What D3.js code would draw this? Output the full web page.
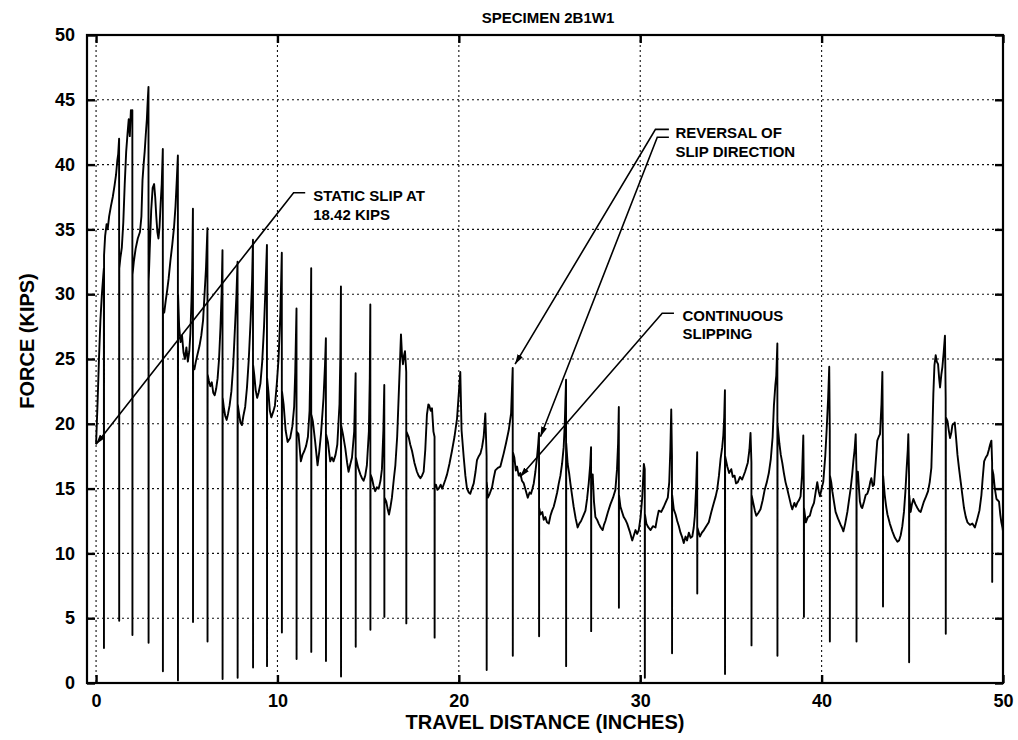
<!DOCTYPE html>
<html>
<head>
<meta charset="utf-8">
<script src="https://cdn.jsdelivr.net/npm/d3@7"></script>
<style>
  body { margin: 0; background: #fff; }
  svg { display: block; }
  text { font-family: "Liberation Sans", Arial, Helvetica, sans-serif; font-weight: bold; fill: #000; }
</style>
</head>
<body>
<svg id="chart" width="1018" height="740"></svg>
<script>
// Force (kips) against travel distance (inches) for specimen 2B1W1.
// Each sharp downward stroke is a slip event: peak force, momentary drop, recovery.
const forceTrace = [
  [0,18.42],[0.08,21.5],[0.16,25.0],[0.24,28.0],[0.32,30.0],[0.40,31.5],[0.43,32.0],[0.435,2.7],[0.44,33.0],
  [0.5,34.5],[0.58,35.4],[0.64,35.0],[0.72,36.0],[0.82,36.8],[0.92,37.5],[1.02,38.4],[1.1,39.2],[1.17,40.3],[1.22,40.8],[1.27,42.0],[1.275,4.8],[1.28,32.0],
  [1.34,32.8],[1.42,33.6],[1.5,35.5],[1.58,38.5],[1.66,41.0],[1.74,42.5],[1.8,43.5],[1.86,42.2],[1.92,44.2],[1.97,43.5],[2.0,44.2],[2.005,3.7],[2.01,31.5],
  [2.08,32.5],[2.18,33.5],[2.3,34.3],[2.42,34.8],[2.5,36.0],[2.56,38.8],[2.62,40.0],[2.68,41.0],[2.74,42.3],[2.8,43.5],[2.85,45.0],[2.89,46.0],[2.895,3.1],[2.9,31.0],
  [2.96,33.5],[3.04,36.5],[3.12,38.2],[3.2,38.5],[3.26,37.5],[3.32,36.0],[3.38,34.8],[3.44,34.3],[3.5,35.2],[3.56,37.0],[3.62,38.5],[3.68,41.2],[3.685,0.9],[3.69,28.5],
  [3.76,28.6],[3.84,29.5],[3.92,30.3],[4.0,31.2],[4.1,32.6],[4.2,33.8],[4.3,35.2],[4.38,36.8],[4.45,38.8],[4.51,40.7],[4.515,0.2],[4.52,30.0],
  [4.58,27.5],[4.66,26.3],[4.74,26.8],[4.82,25.5],[4.9,25.0],[4.98,25.9],[5.06,24.8],[5.14,25.6],[5.2,27.0],[5.26,29.5],[5.3,32.0],[5.34,36.6],[5.345,4.7],[5.35,24.5],
  [5.42,24.2],[5.5,24.8],[5.6,25.4],[5.7,26.0],[5.8,26.8],[5.9,28.0],[5.98,30.0],[6.06,32.0],[6.14,35.1],[6.145,3.2],[6.15,23.8],
  [6.22,23.3],[6.3,22.9],[6.38,23.2],[6.46,22.4],[6.54,22.2],[6.62,22.7],[6.7,23.5],[6.78,25.0],[6.86,27.5],[6.92,30.0],[6.97,33.4],[6.975,0.3],[6.98,22.0],
  [7.05,21.2],[7.12,20.6],[7.2,20.3],[7.28,20.8],[7.36,21.4],[7.46,22.5],[7.56,24.5],[7.66,27.5],[7.74,30.0],[7.8,32.5],[7.805,0.4],[7.81,21.5],
  [7.88,20.8],[7.96,20.1],[8.04,19.9],[8.12,20.6],[8.22,21.3],[8.32,22.8],[8.42,25.0],[8.52,28.0],[8.6,31.0],[8.65,34.2],[8.655,1.2],[8.66,24.5],
  [8.72,23.8],[8.8,22.6],[8.88,22.0],[8.96,22.4],[9.06,23.1],[9.16,24.8],[9.26,27.5],[9.34,30.5],[9.42,33.8],[9.425,1.3],[9.43,23.5],
  [9.5,22.5],[9.58,21.0],[9.66,20.5],[9.76,20.9],[9.86,21.4],[9.96,23.0],[10.06,25.0],[10.16,28.5],[10.24,33.2],[10.245,3.9],[10.25,22.5],
  [10.34,21.5],[10.45,19.5],[10.56,18.6],[10.7,18.9],[10.82,19.8],[10.92,21.3],[10.98,24.0],[11.05,28.9],[11.055,1.85],[11.06,19.4],
  [11.16,19.2],[11.29,17.1],[11.38,17.6],[11.48,17.9],[11.58,18.3],[11.68,19.0],[11.77,21.0],[11.82,25.0],[11.86,32.0],[11.865,2.4],[11.87,20.7],
  [11.95,20.2],[12.08,18.6],[12.21,16.8],[12.3,17.8],[12.4,19.2],[12.54,22.0],[12.62,24.5],[12.67,26.6],[12.675,1.7],[12.68,19.2],
  [12.78,18.6],[12.91,17.1],[13.0,17.4],[13.09,17.1],[13.2,17.6],[13.3,18.4],[13.42,21.5],[13.47,25.5],[13.5,30.6],[13.505,0.5],[13.51,19.9],
  [13.61,19.2],[13.74,18.1],[13.84,17.0],[13.92,16.3],[14.02,16.9],[14.11,17.4],[14.23,19.4],[14.31,23.9],[14.315,2.8],[14.32,17.4],
  [14.45,16.6],[14.57,16.1],[14.66,15.8],[14.75,15.6],[14.84,16.0],[14.93,16.8],[15.04,19.4],[15.09,23.5],[15.12,29.2],[15.125,4.1],[15.13,16.1],
  [15.21,15.8],[15.3,15.2],[15.39,14.8],[15.48,15.1],[15.58,15.0],[15.68,15.6],[15.76,16.5],[15.84,19.5],[15.89,23.0],[15.895,5.1],[15.9,14.3],
  [16.0,14.0],[16.08,13.4],[16.15,13.0],[16.22,13.5],[16.31,14.3],[16.42,15.8],[16.5,16.8],[16.6,19.0],[16.68,22.0],[16.76,25.0],[16.81,26.9],[16.87,25.2],[16.92,24.6],[16.98,25.3],[17.03,25.6],[17.08,24.5],[17.1,24.0],[17.105,4.6],[17.11,19.4],
  [17.23,19.0],[17.32,18.4],[17.42,17.9],[17.55,17.0],[17.69,16.3],[17.78,16.0],[17.88,15.8],[17.97,16.0],[18.06,16.3],[18.15,18.0],[18.24,20.7],[18.32,21.5],[18.37,21.4],[18.45,21.0],[18.52,21.2],[18.6,19.4],[18.66,19.0],[18.665,3.5],[18.67,15.3],
  [18.74,15.3],[18.82,14.9],[18.89,15.0],[19.0,15.3],[19.08,15.0],[19.16,15.3],[19.26,15.7],[19.35,16.1],[19.48,16.9],[19.62,17.9],[19.76,19.0],[19.9,20.4],[19.98,22.0],[20.08,24.0],
  [20.15,19.5],[20.27,17.4],[20.36,16.0],[20.45,15.0],[20.55,14.7],[20.63,14.6],[20.72,15.0],[20.82,15.4],[20.92,16.3],[21.0,17.2],[21.1,17.5],[21.19,17.7],[21.28,18.2],[21.37,19.0],[21.46,20.8],[21.53,17.5],[21.535,1.0],[21.54,15.5],
  [21.6,14.3],[21.7,14.6],[21.83,15.1],[21.92,15.8],[22.01,16.4],[22.15,16.6],[22.29,16.7],[22.38,17.2],[22.47,17.7],[22.6,18.5],[22.75,19.5],[22.88,20.8],[22.97,24.3],[22.975,2.1],[22.98,17.8],
  [23.06,17.4],[23.14,16.4],[23.21,16.7],[23.3,16.0],[23.39,16.2],[23.48,15.6],[23.58,15.4],[23.7,14.8],[23.8,14.3],[23.9,14.7],[23.98,14.6],[24.06,15.0],[24.13,15.4],[24.22,16.3],[24.31,17.4],[24.38,18.5],[24.42,19.3],[24.425,3.6],[24.43,13.5],
  [24.5,13.0],[24.6,13.2],[24.68,12.6],[24.77,12.8],[24.86,12.4],[24.96,12.3],[25.05,12.9],[25.14,13.3],[25.23,13.6],[25.32,14.1],[25.42,14.7],[25.51,15.4],[25.6,16.0],[25.69,16.9],[25.78,18.2],[25.84,20.0],[25.91,23.4],[25.915,1.3],[25.92,18.5],
  [26.0,16.9],[26.08,16.2],[26.15,15.4],[26.24,14.5],[26.33,13.6],[26.44,12.7],[26.55,12.0],[26.64,12.3],[26.74,12.5],[26.86,12.9],[26.98,13.3],[27.07,14.2],[27.16,15.4],[27.24,16.8],[27.29,18.2],[27.295,4.0],[27.3,16.1],
  [27.38,16.1],[27.45,14.0],[27.53,12.8],[27.62,12.6],[27.71,12.3],[27.82,12.0],[27.93,11.8],[28.0,12.2],[28.08,12.5],[28.22,13.2],[28.36,13.8],[28.5,14.3],[28.63,14.9],[28.72,16.5],[28.78,18.5],[28.82,21.3],[28.825,5.8],[28.83,14.5],
  [28.91,13.6],[29.0,13.2],[29.09,12.8],[29.18,12.6],[29.28,12.3],[29.42,11.7],[29.56,11.0],[29.65,11.4],[29.74,11.8],[29.83,11.5],[29.92,11.8],[30.02,12.8],[30.11,14.3],[30.2,16.9],[30.25,16.5],[30.255,0.4],[30.26,13.0],
  [30.34,12.3],[30.45,12.0],[30.57,11.8],[30.7,12.1],[30.84,12.0],[30.93,12.7],[31.02,13.3],[31.16,13.2],[31.3,13.6],[31.42,14.0],[31.52,14.3],[31.6,15.5],[31.66,18.0],[31.71,21.1],[31.75,17.5],[31.755,2.3],[31.76,14.5],
  [31.85,13.4],[31.95,13.0],[32.04,12.5],[32.13,12.1],[32.22,11.6],[32.3,11.3],[32.4,10.8],[32.5,11.3],[32.58,11.0],[32.68,11.6],[32.78,11.2],[32.87,11.3],[32.95,12.0],[33.01,12.9],[33.08,15.0],[33.14,17.8],[33.145,6.9],[33.15,12.0],
  [33.29,11.3],[33.4,11.6],[33.51,11.8],[33.64,12.1],[33.78,12.4],[33.92,13.2],[34.06,13.9],[34.16,14.4],[34.24,14.9],[34.34,16.0],[34.43,17.3],[34.52,18.2],[34.58,19.1],[34.63,20.5],[34.67,22.6],[34.675,0.7],[34.68,17.5],
  [34.8,16.7],[34.9,16.2],[35.02,16.5],[35.1,15.9],[35.2,16.0],[35.28,15.4],[35.38,15.5],[35.5,15.9],[35.62,15.7],[35.78,16.3],[35.93,17.0],[36.02,18.0],[36.08,19.3],[36.13,17.0],[36.135,2.9],[36.14,14.5],
  [36.23,13.9],[36.32,13.3],[36.4,12.9],[36.5,13.1],[36.63,13.4],[36.75,14.1],[36.86,14.9],[36.98,15.5],[37.09,16.2],[37.2,17.3],[37.3,19.0],[37.37,21.4],[37.45,23.0],[37.5,23.7],[37.56,26.2],[37.565,2.1],[37.57,20.0],
  [37.67,18.5],[37.75,17.6],[37.83,17.0],[37.92,16.2],[38.01,15.5],[38.1,15.0],[38.2,14.4],[38.3,13.8],[38.38,13.4],[38.5,13.9],[38.58,13.6],[38.66,13.9],[38.75,14.1],[38.84,14.4],[38.92,16.0],[38.99,19.1],[39.02,15.0],[39.025,5.1],[39.03,13.5],
  [39.13,12.4],[39.24,12.8],[39.35,12.9],[39.46,13.5],[39.58,13.9],[39.68,14.8],[39.76,15.5],[39.84,14.8],[39.91,14.4],[40.0,15.0],[40.09,15.5],[40.2,17.5],[40.28,19.6],[40.36,22.0],[40.42,24.4],[40.45,19.5],[40.455,3.2],[40.46,16.0],
  [40.53,15.5],[40.59,14.8],[40.68,14.0],[40.77,13.2],[40.9,12.7],[41.05,12.2],[41.12,12.0],[41.2,11.7],[41.3,12.3],[41.42,13.2],[41.52,14.2],[41.6,15.0],[41.68,16.0],[41.75,17.1],[41.82,18.0],[41.88,19.2],[41.92,16.5],[41.925,3.2],[41.93,16.3],
  [42.0,16.3],[42.06,15.0],[42.11,14.0],[42.18,13.6],[42.24,13.5],[42.34,14.0],[42.43,14.5],[42.52,14.6],[42.61,15.0],[42.68,15.5],[42.74,15.8],[42.82,15.2],[42.89,15.3],[42.98,17.0],[43.07,18.7],[43.15,19.0],[43.22,19.2],[43.3,21.5],[43.35,24.0],[43.38,18.0],[43.385,5.9],[43.39,16.0],
  [43.48,14.5],[43.56,13.6],[43.63,13.0],[43.76,12.3],[43.9,11.7],[44.04,11.2],[44.18,10.9],[44.27,11.0],[44.36,11.4],[44.45,12.1],[44.54,13.2],[44.62,14.8],[44.69,16.6],[44.75,18.0],[44.78,19.2],[44.82,16.0],[44.825,1.6],[44.83,14.5],
  [44.91,13.2],[44.98,13.8],[45.06,14.2],[45.17,13.8],[45.28,13.5],[45.37,13.3],[45.46,13.2],[45.55,13.6],[45.64,14.0],[45.76,14.4],[45.87,14.8],[45.96,15.5],[46.05,16.6],[46.1,19.0],[46.16,22.3],[46.22,24.5],[46.29,25.3],[46.35,24.8],[46.42,24.6],[46.48,23.5],[46.53,22.8],[46.6,23.8],[46.66,24.4],[46.73,25.5],[46.8,26.8],[46.84,22.0],[46.845,3.8],[46.85,20.5],
  [46.94,20.2],[47.01,19.5],[47.08,18.9],[47.15,19.3],[47.21,19.9],[47.28,20.0],[47.34,20.1],[47.42,18.8],[47.49,17.6],[47.58,16.5],[47.67,15.5],[47.76,14.5],[47.85,13.5],[47.95,12.8],[48.04,12.4],[48.18,12.2],[48.31,12.3],[48.45,12.0],[48.59,12.7],[48.7,13.3],[48.81,14.5],[48.88,15.8],[48.96,17.1],[49.05,17.4],[49.14,17.6],[49.22,18.0],[49.29,18.4],[49.36,18.7],[49.4,17.0],[49.405,7.8],[49.41,16.5],
  [49.47,16.1],[49.55,15.0],[49.64,14.2],[49.71,14.1],[49.78,14.0],[49.85,13.0],[49.91,12.4],[49.97,12.0],[50.0,11.7]
];

const staticSlipKips = 18.42;               // force at first slip, x = 0
const reversalPoints = [[23.1, 24.6], [24.5, 19.0]];
const continuousSlipPoint = [23.37, 15.9];

const travelTicks = [0, 10, 20, 30, 40, 50];
const forceTicks = [0, 5, 10, 15, 20, 25, 30, 35, 40, 45, 50];
const gridTravel = [0, 10, 20, 30, 40];
const gridForce = [5, 10, 15, 20, 25, 30, 35, 40, 45];

const chartTitle = "SPECIMEN 2B1W1";
const xTitle = "TRAVEL DISTANCE (INCHES)";
const yTitle = "FORCE (KIPS)";

// ---- layout ----
const svg = d3.select("#chart");
const plotL = 87, plotR = 1003, plotT = 35, plotB = 683;

const x = d3.scaleLinear().domain([-0.5, 50]).range([plotL, plotR]);
const y = d3.scaleLinear().domain([0, 50]).range([plotB, plotT]);

svg.append("rect").attr("width", 1018).attr("height", 740).attr("fill", "#fff");

// dotted grid
const grid = svg.append("g").attr("stroke", "#111").attr("stroke-width", 1.1).attr("stroke-dasharray", "2,3");
grid.selectAll(".gx").data(gridTravel).join("line")
  .attr("x1", d => x(d)).attr("x2", d => x(d)).attr("y1", plotT).attr("y2", plotB);
grid.selectAll(".gy").data(gridForce).join("line")
  .attr("x1", plotL).attr("x2", plotR).attr("y1", d => y(d)).attr("y2", d => y(d));

// inward tick marks on all four sides
function tickStyle(g) {
  g.select(".domain").remove();
  g.selectAll(".tick line").attr("stroke", "#000").attr("stroke-width", 2.4);
  g.selectAll(".tick text").remove();
}
svg.append("g").attr("transform", `translate(${plotL},0)`)
  .call(d3.axisRight(y).tickValues(forceTicks).tickSize(8)).call(tickStyle);
svg.append("g").attr("transform", `translate(${plotR},0)`)
  .call(d3.axisLeft(y).tickValues(forceTicks).tickSize(8)).call(tickStyle);
svg.append("g").attr("transform", `translate(0,${plotB})`)
  .call(d3.axisTop(x).tickValues(travelTicks).tickSize(8)).call(tickStyle);
svg.append("g").attr("transform", `translate(0,${plotT})`)
  .call(d3.axisBottom(x).tickValues(travelTicks).tickSize(8)).call(tickStyle);

// tick labels
function labelStyle(g) {
  g.select(".domain").remove();
  g.selectAll(".tick line").remove();
  g.selectAll(".tick text").attr("font-size", 18).attr("fill", "#000")
    .style("font-family", '"Liberation Sans", Arial, sans-serif').style("font-weight", "bold");
}
svg.append("g").attr("transform", `translate(${plotL},0)`)
  .call(d3.axisLeft(y).tickValues(forceTicks).tickSize(0).tickPadding(12).tickFormat(d3.format("d")))
  .call(labelStyle);
svg.append("g").attr("transform", `translate(0,${plotB})`)
  .call(d3.axisBottom(x).tickValues(travelTicks).tickSize(0).tickPadding(11).tickFormat(d3.format("d")))
  .call(labelStyle);

// frame
svg.append("rect").attr("x", plotL).attr("y", plotT)
  .attr("width", plotR - plotL).attr("height", plotB - plotT)
  .attr("fill", "none").attr("stroke", "#000").attr("stroke-width", 2.2);

// force trace
const line = d3.line().x(d => x(d[0])).y(d => y(d[1]));
svg.append("path").datum(forceTrace)
  .attr("d", line).attr("fill", "none").attr("stroke", "#000")
  .attr("stroke-width", 1.9).attr("stroke-linejoin", "round");

// titles
svg.append("text").attr("x", 548).attr("y", 22.5).attr("text-anchor", "middle")
  .attr("font-size", 15).text(chartTitle);
svg.append("text").attr("x", 545).attr("y", 729).attr("text-anchor", "middle")
  .attr("font-size", 20).text(xTitle);
svg.append("text").attr("transform", "translate(34,341) rotate(-90)").attr("text-anchor", "middle")
  .attr("font-size", 20).text(yTitle);

// callouts with arrowheads
svg.append("defs").append("marker")
  .attr("id", "head").attr("viewBox", "0 0 10 10").attr("refX", 10).attr("refY", 5)
  .attr("markerWidth", 10).attr("markerHeight", 6).attr("markerUnits", "userSpaceOnUse")
  .attr("preserveAspectRatio", "none").attr("orient", "auto")
  .append("path").attr("d", "M0,0L10,5L0,10Z").attr("fill", "#000");

const callouts = [
  { lines: ["STATIC SLIP AT", "18.42 KIPS"], at: [11.97, 37.19],
    leaders: [{ end: [11.53, 37.83], knee: [10.89, 37.83], tip: [0, staticSlipKips] }] },
  { lines: ["REVERSAL OF", "SLIP DIRECTION"], at: [31.94, 42.05],
    leaders: [{ end: [31.58, 42.72], knee: [30.84, 42.72], tip: reversalPoints[0] },
              { end: [31.58, 42.11], knee: [30.94, 42.11], tip: reversalPoints[1] }] },
  { lines: ["CONTINUOUS", "SLIPPING"], at: [32.33, 27.95],
    leaders: [{ end: [31.86, 28.53], knee: [31.21, 28.53], tip: continuousSlipPoint }] }
];

const pt = p => [x(p[0]), y(p[1])];
callouts.forEach(c => {
  c.leaders.forEach(l => {
    svg.append("path")
      .attr("d", d3.line()([pt(l.end), pt(l.knee), pt(l.tip)]))
      .attr("fill", "none").attr("stroke", "#000").attr("stroke-width", 1.6)
      .attr("marker-end", "url(#head)");
  });
  const t = svg.append("text").attr("x", x(c.at[0])).attr("y", y(c.at[1])).attr("font-size", 15);
  c.lines.forEach((s, i) => {
    t.append("tspan").attr("x", x(c.at[0])).attr("dy", i === 0 ? 0 : 18.5).text(s);
  });
});
</script>
</body>
</html>
